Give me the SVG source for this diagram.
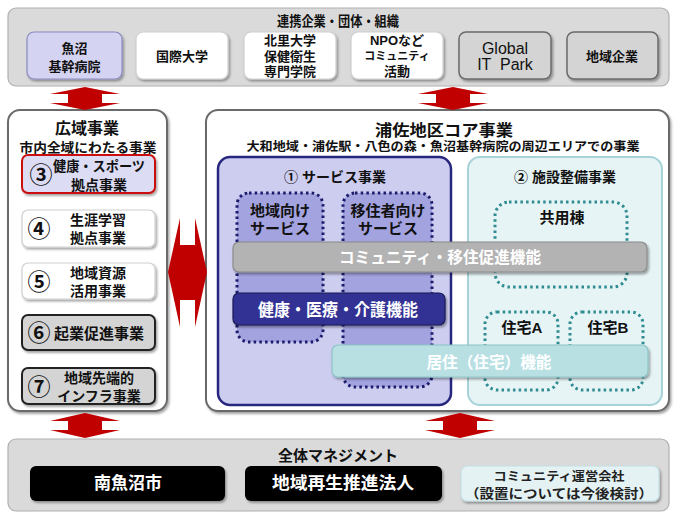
<svg xmlns="http://www.w3.org/2000/svg" width="674" height="515" viewBox="0 0 674 515">
<defs>
<filter id="sh" x="-10%" y="-10%" width="130%" height="140%"><feDropShadow dx="1.5" dy="2" stdDeviation="1.2" flood-color="#000" flood-opacity="0.35"/></filter>
<style>
text{font-family:"Liberation Sans","Noto Sans CJK JP",sans-serif;font-weight:bold;text-anchor:middle;dominant-baseline:central;fill:#111}
.t13{font-size:13px}.t14{font-size:14px}.t15{font-size:15px}.t16{font-size:16px}.t17{font-size:17px}
.num{font-size:23px;font-weight:bold}
.w{fill:#fff}
.band{fill:#dadada;stroke:#b0b0b0;stroke-width:1.2}
.wbox{fill:#fff;stroke:#cfcfcf;stroke-width:1.2}
.gbox{fill:#d4d4d4;stroke:#6a6a6a;stroke-width:1.5}
.panel{fill:#fff;stroke:#6a6a6a;stroke-width:2}
.dotp{fill:#a3a3df;stroke:#1c1c6c;stroke-width:3;stroke-dasharray:2.5 3.2}
.dott{fill:none;stroke:#2e8b8f;stroke-width:3;stroke-dasharray:2.5 3.2}
.arrow{fill:#c00000}
</style>
</defs>

<g id="partners">
<rect class="band" x="8" y="8" width="661" height="78" rx="8"/>
<text class="t14" x="338" y="21" textLength="122" lengthAdjust="spacingAndGlyphs">連携企業・団体・組織</text>
</g>
<g id="uonuma-hospital">
<rect x="27" y="32" width="95" height="47" rx="7" fill="#d4d4f2" stroke="#8a8ac0" stroke-width="1.2" filter="url(#sh)"/>
<text class="t13" x="74.5" y="48">魚沼</text>
<text class="t13" x="74.5" y="66">基幹病院</text>
</g>
<g id="kokusai-univ">
<rect class="wbox" x="136" y="32" width="92" height="47" rx="7" filter="url(#sh)"/>
<text class="t13" x="182" y="56">国際大学</text>
</g>
<g id="kitasato">
<rect class="wbox" x="244" y="32" width="92" height="47" rx="7" filter="url(#sh)"/>
<text class="t13" x="290" y="40">北里大学</text>
<text class="t13" x="290" y="56">保健衛生</text>
<text class="t13" x="290" y="71">専門学院</text>
</g>
<g id="npo">
<rect class="wbox" x="351" y="32" width="92" height="47" rx="7" filter="url(#sh)"/>
<text class="t13" x="397" y="40">NPOなど</text>
<text x="397" y="56" font-size="11">コミュニティ</text>
<text class="t13" x="397" y="71">活動</text>
</g>
<g id="global-it-park">
<rect class="gbox" x="459" y="32" width="92" height="47" rx="7" filter="url(#sh)"/>
<text x="505" y="48" font-size="16" style="font-weight:normal">Global</text>
<text x="505" y="64" font-size="16" style="font-weight:normal;white-space:pre">IT  Park</text>
</g>
<g id="local-companies">
<rect class="gbox" x="567" y="32" width="91" height="47" rx="7" filter="url(#sh)"/>
<text class="t13" x="612" y="56">地域企業</text>
</g>

<g id="wide-area">
<rect class="panel" x="8" y="110" width="159" height="301" rx="12" filter="url(#sh)"/>
<text class="t16" x="87" y="128">広域事業</text>
<text class="t13" x="88" y="147" textLength="137" lengthAdjust="spacingAndGlyphs">市内全域にわたる事業</text>
</g>
<g id="p3">
<rect x="22" y="155" width="133" height="38" rx="6" fill="#dcdcf4" stroke="#cc1010" stroke-width="2" filter="url(#sh)"/>
<text class="num" x="41" y="175">③</text>
<text class="t14" x="99" y="166" textLength="92" lengthAdjust="spacingAndGlyphs">健康・スポーツ</text>
<text class="t14" x="99" y="185">拠点事業</text>
</g>
<g id="p4">
<rect class="wbox" x="22" y="210" width="133" height="37" rx="6" filter="url(#sh)"/>
<text class="num" x="39" y="229">④</text>
<text class="t14" x="98" y="220">生涯学習</text>
<text class="t14" x="98" y="238">拠点事業</text>
</g>
<g id="p5">
<rect class="wbox" x="22" y="263" width="133" height="36" rx="6" filter="url(#sh)"/>
<text class="num" x="39" y="282">⑤</text>
<text class="t14" x="98" y="273">地域資源</text>
<text class="t14" x="98" y="291">活用事業</text>
</g>
<g id="p6">
<rect x="22" y="315" width="133" height="35" rx="6" fill="#d4d4d4" stroke="#222" stroke-width="2" filter="url(#sh)"/>
<text class="num" x="39" y="333">⑥</text>
<text class="t15" x="99" y="333">起業促進事業</text>
</g>
<g id="p7">
<rect x="22" y="368" width="133" height="36" rx="6" fill="#d4d4d4" stroke="#222" stroke-width="2" filter="url(#sh)"/>
<text class="num" x="39" y="387">⑦</text>
<text class="t14" x="99" y="378">地域先端的</text>
<text class="t14" x="99" y="396">インフラ事業</text>
</g>

<g id="core">
<rect class="panel" x="206" y="110" width="463" height="301" rx="12" filter="url(#sh)"/>
<text class="t16" x="444" y="130" textLength="138" lengthAdjust="spacingAndGlyphs">浦佐地区コア事業</text>
<text x="443" y="147" font-size="12.5" textLength="393" lengthAdjust="spacingAndGlyphs">大和地域・浦佐駅・八色の森・魚沼基幹病院の周辺エリアでの事業</text>
</g>
<g id="service">
<rect x="218" y="157" width="233" height="248" rx="12" fill="#cdcdf0" stroke="#27277f" stroke-width="2.5"/>
<text class="t14" x="335" y="177">①  サービス事業</text>
</g>
<g id="local-service">
<rect class="dotp" x="237" y="193" width="86" height="149" rx="12"/>
<text class="t15" x="280" y="210">地域向け</text>
<text class="t15" x="280" y="228">サービス</text>
</g>
<g id="migrant-service">
<rect class="dotp" x="343" y="193" width="89" height="194" rx="12"/>
<text class="t15" x="388" y="210">移住者向け</text>
<text class="t15" x="388" y="228">サービス</text>
</g>
<g id="facility">
<rect x="468" y="157" width="194" height="248" rx="12" fill="#e6f4f6" stroke="#a6d2d8" stroke-width="2"/>
<text class="t14" x="565" y="177">②  施設整備事業</text>
</g>
<g id="shared-building">
<rect class="dott" x="495" y="202" width="132" height="85" rx="14"/>
<text class="t15" x="562" y="217">共用棟</text>
</g>
<g id="house-a">
<rect class="dott" x="485" y="312" width="73" height="78" rx="12"/>
<text class="t15" x="522" y="327">住宅A</text>
</g>
<g id="house-b">
<rect class="dott" x="570" y="312" width="73" height="78" rx="12"/>
<text class="t15" x="608" y="327">住宅B</text>
</g>
<g id="community-function">
<rect x="233" y="242" width="414" height="30" rx="6" fill="#b3b3b3" stroke="#8a8a8a" stroke-width="1.2" filter="url(#sh)"/>
<text class="t16 w" x="440" y="257" textLength="202" lengthAdjust="spacingAndGlyphs">コミュニティ・移住促進機能</text>
</g>
<g id="health-function">
<rect x="233" y="293" width="212" height="32" rx="6" fill="#333394" stroke="#1a1a55" stroke-width="1.2" filter="url(#sh)"/>
<text class="t17 w" x="338" y="310" textLength="160" lengthAdjust="spacingAndGlyphs">健康・医療・介護機能</text>
</g>
<g id="housing-function">
<rect x="332" y="345" width="316" height="32" rx="6" fill="#b8e0e3" stroke="#8ec3c7" stroke-width="1.2" filter="url(#sh)"/>
<text class="t16 w" x="489" y="362" textLength="125" lengthAdjust="spacingAndGlyphs">居住（住宅）機能</text>
</g>

<g id="management">
<rect class="band" x="8" y="439" width="661" height="72" rx="8"/>
<text class="t15" x="338" y="455">全体マネジメント</text>
</g>
<g id="minamiuonuma">
<rect x="30" y="466" width="195" height="35" rx="6" fill="#000" filter="url(#sh)"/>
<text class="t17 w" x="128" y="483">南魚沼市</text>
</g>
<g id="regional-corp">
<rect x="245" y="466" width="197" height="35" rx="6" fill="#000" filter="url(#sh)"/>
<text class="t17 w" x="343" y="483" textLength="142" lengthAdjust="spacingAndGlyphs">地域再生推進法人</text>
</g>
<g id="community-company">
<rect x="461" y="466" width="198" height="35" rx="6" fill="#e4f2f4" stroke="#c6e0e3" stroke-width="1.2" filter="url(#sh)"/>
<text x="559" y="477" font-size="12" textLength="131" lengthAdjust="spacingAndGlyphs" style="fill:#222">コミュニティ運営会社</text>
<text x="559" y="493" font-size="13" textLength="188" lengthAdjust="spacingAndGlyphs" style="fill:#222">（設置については今後検討）</text>
</g>

<g id="connectors">
<polygon class="arrow" points="85,87 120,94 102,94 102,103 120,103 85,110 50,103 68,103 68,94 50,94"/>
<polygon class="arrow" points="453,87 488,94 470,94 470,103 488,103 453,110 418,103 436,103 436,94 418,94"/>
<polygon class="arrow" points="168,272 180,218 180,245 195,245 195,218 207,272 195,327 195,300 180,300 180,327"/>
<polygon class="arrow" points="85,413 120,421 102,421 102,430 120,430 85,438 50,430 68,430 68,421 50,421"/>
<polygon class="arrow" points="460,413 495,421 477,421 477,430 495,430 460,438 425,430 443,430 443,421 425,421"/>
</g>
</svg>
